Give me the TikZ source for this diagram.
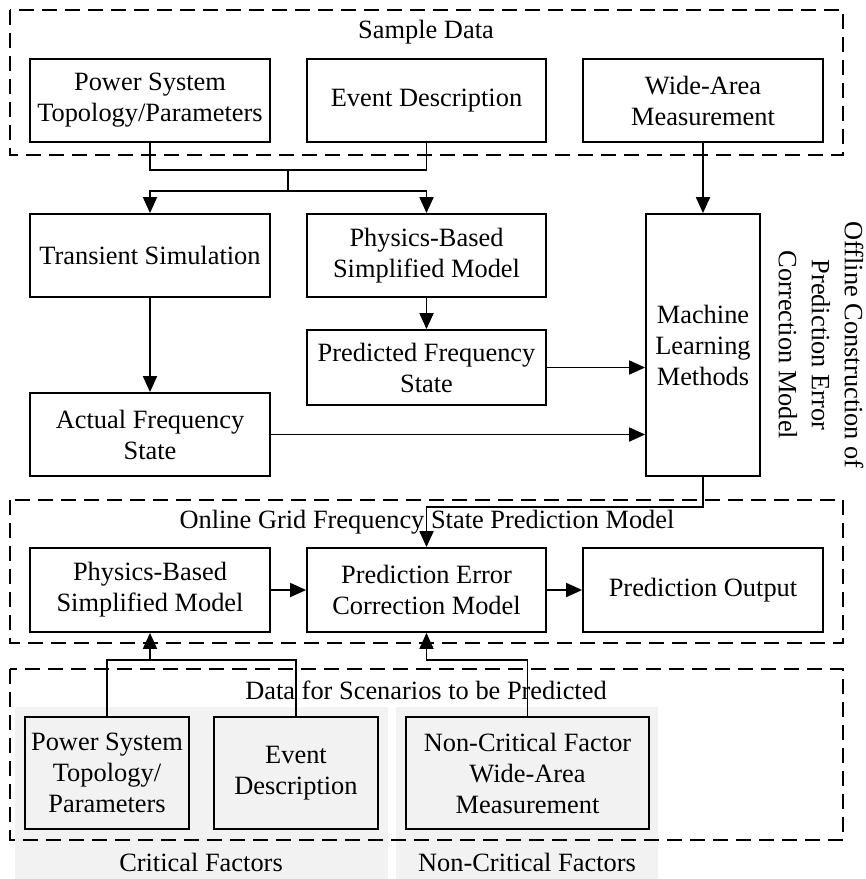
\documentclass[tikz,border=0pt]{standalone}
\usepackage{fontspec}
\setmainfont{Liberation Serif}
\usetikzlibrary{arrows.meta,calc}

\newcommand{\labelfont}{\fontsize{26.4}{31}\selectfont}

\tikzset{
  box/.style={draw, line width=1.8pt, align=center, inner sep=0pt, font=\labelfont},
  greybox/.style={box, fill=factorgrey},
  region/.style={draw, line width=1.8pt, dash pattern=on 15pt off 8pt},
  title/.style={font=\labelfont, inner sep=0pt, anchor=base},
  link/.style={line width=1.8pt},
  arr/.style={link, -{Triangle[length=16pt, width=14pt]}}
}
\definecolor{factorgrey}{HTML}{F2F2F2}

\begin{document}
\begin{tikzpicture}[x=1pt, y=-1pt]
\useasboundingbox (0,0) rectangle (866,879);

% grey panels behind the scenario factors
\fill[factorgrey] (15,707) rectangle (388,879);
\fill[factorgrey] (396,707) rectangle (658,879);

% dashed group frames
\draw[region] (10,10) rectangle (843,155);
\draw[region] (10,500) rectangle (843,643);
\draw[region] (10,669) rectangle (843,840);

% group titles
\node[title] (tsample) at (426,38) {Sample Data};
\node[title] (tonline) at (427,528) {Online Grid Frequency State Prediction Model};
\node[title] (tscen) at (426,699) {Data for Scenarios to be Predicted};
\node[title] (tcrit) at (201,871) {Critical Factors};
\node[title] (tnoncrit) at (527,871) {Non-Critical Factors};

% offline construction side label
\node[font=\fontsize{26.4}{33}\selectfont, align=center, rotate=-90, inner sep=0pt] (toffline) at (821,345)
  {Offline Construction of\\Prediction Error\\Correction Model};

% sample data
\node[box, minimum width=240pt, minimum height=83pt] (ps) at (150,100.5) {Power System\\Topology/Parameters};
\node[box, minimum width=239pt, minimum height=83pt] (ev) at (426.5,100.5) {Event Description};
\node[box, minimum width=240pt, minimum height=83pt] (wa) at (703,100.5) {Wide-Area\\Measurement};

% offline stage
\node[box, minimum width=240pt, minimum height=83pt] (ts) at (150,255.5) {Transient Simulation};
\node[box, minimum width=239pt, minimum height=83pt] (pb) at (426.5,255.5) {Physics-Based\\Simplified Model};
\node[box, minimum width=239pt, minimum height=75pt] (pf) at (426.5,367.5) {Predicted Frequency\\State};
\node[box, minimum width=240pt, minimum height=83pt] (af) at (150,434.5) {Actual Frequency\\State};
\node[box, minimum width=114pt, minimum height=262pt] (ml) at (703,345) {Machine\\Learning\\Methods};

% online stage
\node[box, minimum width=240pt, minimum height=84pt] (pb2) at (150,590) {Physics-Based\\Simplified Model};
\node[box, minimum width=239pt, minimum height=84pt] (pe) at (426.5,590) {Prediction Error\\Correction Model};
\node[box, minimum width=240pt, minimum height=84pt] (po) at (703,590) {Prediction Output};

% scenario data
\node[greybox, minimum width=164pt, minimum height=112pt] (ps3) at (107,773) {Power System\\Topology/\\Parameters};
\node[greybox, minimum width=164pt, minimum height=112pt] (ev3) at (296,773) {Event\\Description};
\node[greybox, minimum width=243pt, minimum height=112pt] (nc) at (527.5,773) {Non-Critical Factor\\Wide-Area\\Measurement};

% junction points
\coordinate (j1) at (288,170);
\coordinate (j2) at (288,191);
\coordinate (j3) at (703,507);
\coordinate (j4) at (150,660);
\coordinate (j6) at (426.5,660);

% connectors
\draw[link] (ps.south) |- (j1) -| (ev.south);
\draw[link] (j1) -- (j2);
\draw[arr] (j2) -| (ts.north);
\draw[arr] (j2) -| (pb.north);
\draw[arr] (wa.south) -- (ml.north);
\draw[arr] (pb) -- (pf);
\draw[arr] (ts) -- (af);
\draw[arr] (pf.east) -- (pf.east -| ml.west);
\draw[arr] (af.east) -- (af.east -| ml.west);
\draw[arr] (ml.south) -- (j3) -| (pe.north);
\draw[arr] (pb2) -- (pe);
\draw[arr] (pe) -- (po);
\draw[link] (ps3.north) |- (j4) -| (ev3.north);
\draw[arr] (j4) -- (pb2.south);
\draw[arr] (nc.north) |- (j6) -- (pe.south);
\end{tikzpicture}
\end{document}
